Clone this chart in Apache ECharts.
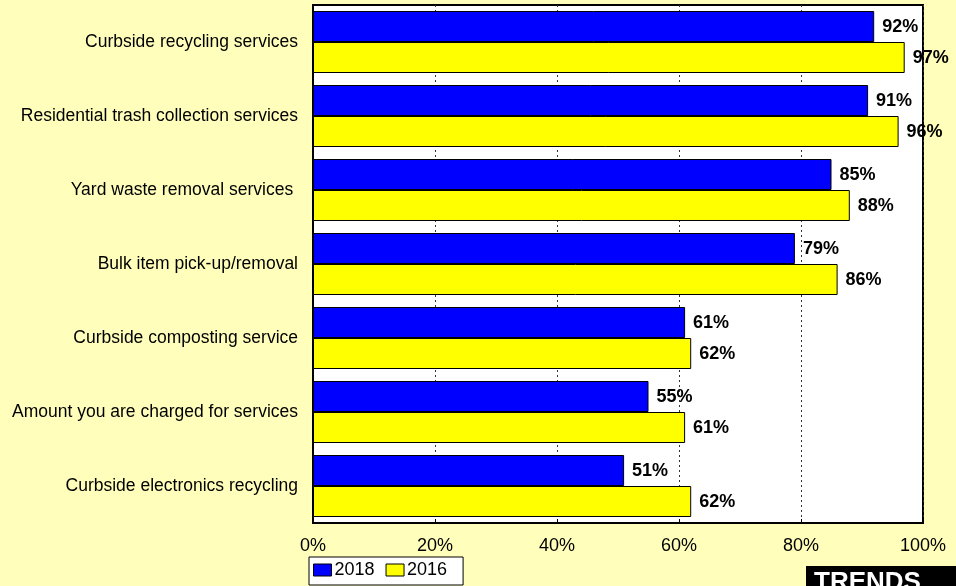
<!DOCTYPE html>
<html>
<head>
<meta charset="utf-8">
<script src="https://cdn.jsdelivr.net/npm/echarts@6/dist/echarts.min.js"></script>
<style>
  html, body { margin: 0; padding: 0; background: #FFFFBB; }
  #chart { width: 956px; height: 586px; }
</style>
</head>
<body>
<div id="chart"></div>
<script>
var categories = [
  "Curbside recycling services",
  "Residential trash collection services",
  "Yard waste removal services ",
  "Bulk item pick-up/removal",
  "Curbside composting service",
  "Amount you are charged for services",
  "Curbside electronics recycling"
];
var values2018 = [92, 91, 85, 79, 61, 55, 51];
var values2016 = [97, 96, 88, 86, 62, 61, 62];
var xTicks = [0, 20, 40, 60, 80, 100];

var myChart = echarts.init(document.getElementById("chart"));

var labelStyle = {
  show: true,
  position: "right",
  distance: 8,
  offset: [0, 1],
  color: "#000",
  fontFamily: "Liberation Sans, Arial",
  fontWeight: "bold",
  fontSize: 18,
  formatter: "{c}%"
};

var option = {
  backgroundColor: "#FFFFBB",
  animation: false,
  grid: {
    left: 313,
    top: 5,
    width: 610,
    height: 518,
    show: true,
    backgroundColor: "#fff",
    borderColor: "#000",
    borderWidth: 2
  },
  legend: {
    left: 309,
    top: 557,
    orient: "horizontal",
    backgroundColor: "#fff",
    borderColor: "#000",
    borderWidth: 1,
    borderRadius: 0,
    padding: [4, 16, 6, 4],
    itemGap: 11,
    itemWidth: 18,
    itemHeight: 12,
    icon: "rect",
    itemStyle: { borderColor: "#000", borderWidth: 1 },
    textStyle: { color: "#000", fontSize: 18, fontFamily: "Liberation Sans, Arial", padding: [0, 0, 0, -2] },
    data: ["2018", "2016"]
  },
  xAxis: {
    type: "value",
    min: 0,
    max: 100,
    interval: 20,
    axisLine: { show: true, lineStyle: { color: "#000", width: 1 } },
    axisTick: { show: true, inside: true, length: 4, lineStyle: { color: "#000" } },
    axisLabel: {
      color: "#000",
      fontSize: 18,
      fontFamily: "Liberation Sans, Arial",
      margin: 14,
      formatter: function (v) { return xTicks.indexOf(v) >= 0 ? v + "%" : ""; }
    },
    splitLine: { show: true, lineStyle: { color: "#333", type: [2, 3], width: 1 } }
  },
  yAxis: {
    type: "category",
    inverse: true,
    data: categories,
    axisLine: { show: true, lineStyle: { color: "#000", width: 2 } },
    axisTick: { show: false },
    axisLabel: {
      color: "#000",
      fontSize: 17.5,
      fontFamily: "Liberation Sans, Arial",
      margin: 15
    }
  },
  series: [
    {
      name: "2018",
      type: "bar",
      data: values2018,
      barWidth: 31,
      barGap: "0%",
      barCategoryGap: "16%",
      itemStyle: { color: "#0000FF", borderColor: "#000", borderWidth: 1 },
      label: labelStyle
    },
    {
      name: "2016",
      type: "bar",
      data: values2016,
      barWidth: 31,
      barGap: "0%",
      itemStyle: { color: "#FFFF00", borderColor: "#000", borderWidth: 1 },
      label: labelStyle
    }
  ],
  graphic: [
    {
      type: "group",
      left: 806,
      top: 566,
      children: [
        { type: "rect", shape: { x: 0, y: 0, width: 150, height: 30 }, style: { fill: "#000" } },
        {
          type: "text",
          x: 8,
          y: 4,
          style: { text: "TRENDS", fill: "#fff", font: "bold 26px Liberation Sans, Arial" }
        }
      ]
    }
  ]
};

myChart.setOption(option);
</script>
</body>
</html>
